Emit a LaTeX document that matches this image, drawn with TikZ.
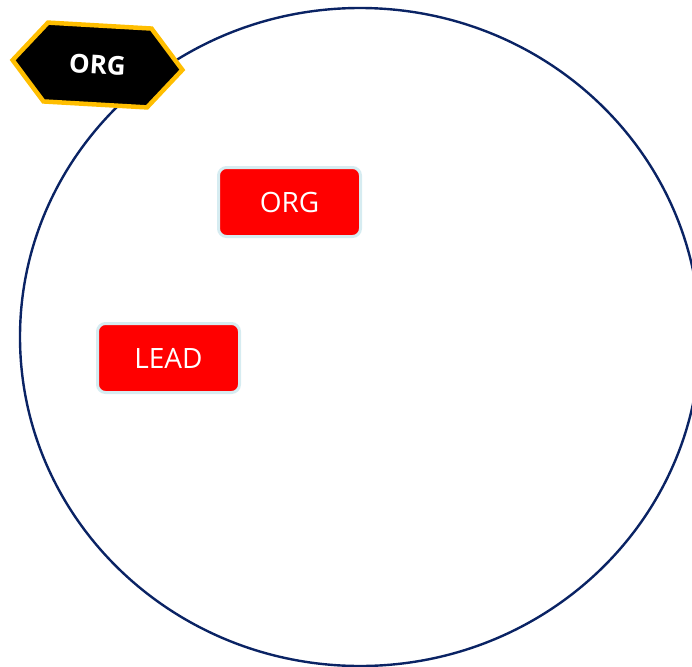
\documentclass[tikz,border=0pt]{standalone}
\usepackage{fontspec}
\setsansfont{Open Sans}
\usetikzlibrary{positioning,shapes.geometric,shapes.symbols}
\definecolor{navy}{RGB}{10,35,100}
\definecolor{gold}{RGB}{255,190,0}
\definecolor{paleblue}{RGB}{214,236,241}
\tikzset{
    team/.style={ellipse,draw=navy,line width=2.4pt,inner sep=0pt,minimum width=680pt,minimum height=658pt},
    tag/.style={signal,signal to=west and east,signal pointer angle=100,fill=black,draw=gold,line width=4.5pt,
        minimum width=170pt,minimum height=79pt,inner sep=0pt,text=white,font=\sffamily\bfseries\fontsize{26}{26}\selectfont},
    rolebox/.style={rectangle,rounded corners=8pt,fill=red,draw=paleblue,line width=3pt,
        minimum width=142pt,minimum height=69pt,inner sep=0pt,text=white,font=\sffamily\fontsize{28}{28}\selectfont}
}

\begin{document}
\begin{tikzpicture}[x=1pt,y=-1pt]
    \useasboundingbox (0,0) rectangle (692,666);
    \node[team] (circle) at (360,337) {};
    \node[tag,rotate=-3.3] (badge) at (97.5,65) {ORG};
    \node[rolebox] (org) at (289.5,202) {ORG};
    \node[rolebox,below=84pt of org,xshift=-121pt] (lead) {LEAD};
\end{tikzpicture}
\end{document}
